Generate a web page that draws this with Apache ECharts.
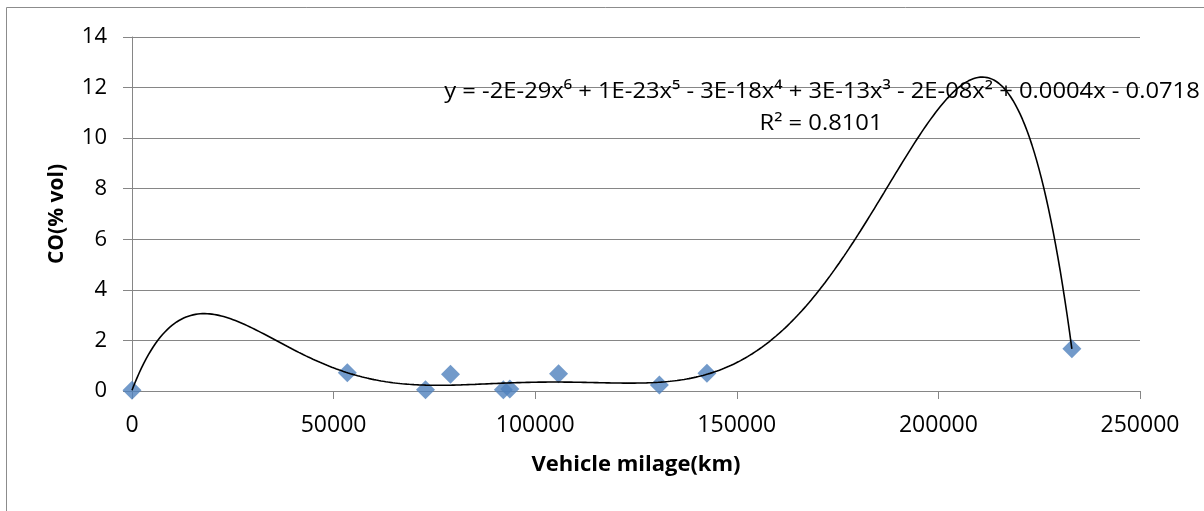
<!DOCTYPE html>
<html>
<head>
<meta charset="utf-8">
<script src="https://cdn.jsdelivr.net/npm/echarts@6/dist/echarts.min.js"></script>
<style>
  html, body { margin: 0; padding: 0; background: #fff; }
  #chart { width: 1204px; height: 511px; }
</style>
</head>
<body>
<div id="chart"></div>
<script>
// Vehicle mileage (km) against measured CO (% vol)
const milage = [0, 53400, 72800, 79000, 92100, 93700, 105800, 130800, 142600, 233100];
const coVol  = [0.03, 0.72, 0.05, 0.66, 0.05, 0.08, 0.68, 0.24, 0.70, 1.67];

const xTicks = [0, 50000, 100000, 150000, 200000, 250000];
const yTicks = [0, 2, 4, 6, 8, 10, 12, 14];

const trendEquation = 'y = -2E-29x\u2076 + 1E-23x\u2075 - 3E-18x\u2074 + 3E-13x\u00B3 - 2E-08x\u00B2 + 0.0004x - 0.0718';
const trendR2 = 'R\u00B2 = 0.8101';

// Least-squares polynomial (order 6) trendline through the measured points.
function polyFit(xs, ys, order, scale) {
  const n = order + 1;
  const A = [];
  for (let i = 0; i < n; i++) { A.push(new Array(n + 1).fill(0)); }
  xs.forEach((xv, k) => {
    const t = xv / scale;
    const pw = [];
    for (let p = 0; p <= 2 * order; p++) pw.push(Math.pow(t, p));
    for (let i = 0; i < n; i++) {
      for (let j = 0; j < n; j++) A[i][j] += pw[i + j];
      A[i][n] += pw[i] * ys[k];
    }
  });
  for (let c = 0; c < n; c++) {
    let piv = c;
    for (let r = c + 1; r < n; r++) if (Math.abs(A[r][c]) > Math.abs(A[piv][c])) piv = r;
    [A[c], A[piv]] = [A[piv], A[c]];
    for (let r = 0; r < n; r++) {
      if (r === c) continue;
      const f = A[r][c] / A[c][c];
      for (let j = c; j <= n; j++) A[r][j] -= f * A[c][j];
    }
  }
  const coef = A.map((row, i) => row[n] / row[i]);
  return x => {
    const t = x / scale;
    let s = 0;
    for (let i = n - 1; i >= 0; i--) s = s * t + coef[i];
    return s;
  };
}

const trendFn = polyFit(milage, coVol, 6, 100000);
const xMin = Math.min(...milage), xMax = Math.max(...milage);
const trendLine = [];
for (let i = 0; i <= 400; i++) {
  const x = xMin + (xMax - xMin) * i / 400;
  trendLine.push([x, trendFn(x)]);
}

const gridColor = '#868686';
const font = '"Open Sans", Lato, sans-serif';

const chart = echarts.init(document.getElementById('chart'), null, { renderer: 'canvas' });
chart.setOption({
  backgroundColor: '#fff',
  animation: false,
  grid: { left: 132, right: 64, top: 37, bottom: 120, containLabel: false },
  xAxis: {
    type: 'value',
    min: xTicks[0], max: xTicks[xTicks.length - 1], interval: xTicks[1] - xTicks[0],
    name: 'Vehicle milage(km)', nameLocation: 'middle', nameGap: 63,
    nameTextStyle: { fontFamily: font, fontSize: 22, fontWeight: 'bold', color: '#000' },
    axisLine: { show: true, lineStyle: { color: gridColor, width: 1 } },
    axisTick: { show: true, inside: false, length: 8, lineStyle: { color: gridColor } },
    axisLabel: { fontFamily: font, fontSize: 23, color: '#000', margin: 23, formatter: v => String(v) },
    splitLine: { show: false }
  },
  yAxis: {
    type: 'value',
    min: yTicks[0], max: yTicks[yTicks.length - 1], interval: yTicks[1] - yTicks[0],
    name: 'CO(% vol)', nameLocation: 'middle', nameGap: 64, nameRotate: 90,
    nameTextStyle: { fontFamily: font, fontSize: 21, fontWeight: 'bold', color: '#000' },
    axisLine: { show: true, lineStyle: { color: gridColor, width: 1 } },
    axisTick: { show: true, inside: false, length: 9, lineStyle: { color: gridColor } },
    axisLabel: { fontFamily: font, fontSize: 22, color: '#000', margin: 25, formatter: v => String(v) },
    splitLine: { show: true, lineStyle: { color: gridColor, width: 1 } }
  },
  series: [
    {
      name: 'Trend',
      type: 'line',
      data: trendLine,
      showSymbol: false,
      smooth: false,
      lineStyle: { color: '#000', width: 1.6 },
      z: 3
    },
    {
      name: 'CO',
      type: 'scatter',
      data: milage.map((x, i) => [x, coVol[i]]),
      symbol: 'diamond',
      symbolSize: 19,
      itemStyle: { color: '#4F81BD' },
      z: 2
    }
  ],
  graphic: [
    {
      type: 'rect', silent: true, z: -1,
      shape: { x: 6.5, y: 7.5, width: 1300, height: 600 },
      style: { fill: 'none', stroke: '#8c8c8c', lineWidth: 1 }
    },
    {
      type: 'text', z: 10, x: 822, y: 92, scaleX: 1.08,
      style: { text: trendEquation, font: '22px ' + font, fill: '#000', align: 'center', verticalAlign: 'middle' }
    },
    {
      type: 'text', z: 10, x: 821, y: 124, scaleX: 1.08,
      style: { text: trendR2, font: '22px ' + font, fill: '#000', align: 'center', verticalAlign: 'middle' }
    }
  ]
});
</script>
</body>
</html>
